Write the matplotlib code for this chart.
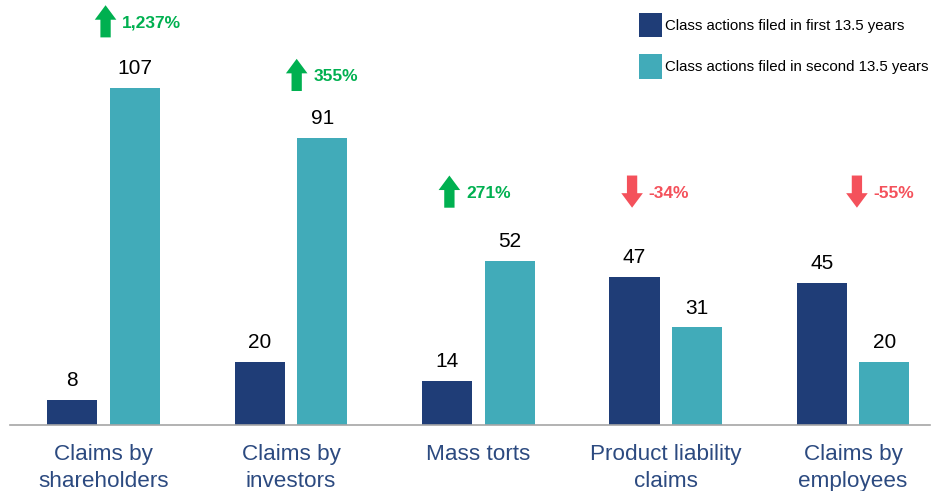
import matplotlib
matplotlib.use("Agg")
import matplotlib.pyplot as plt
from matplotlib.patches import FancyArrow
import numpy as np

plt.rcParams['font.family'] = ['Liberation Sans', 'DejaVu Sans']

# DATA
categories = ["Claims by\nshareholders", "Claims by\ninvestors", "Mass torts",
              "Product liability\nclaims", "Claims by\nemployees"]
first_period = [8, 20, 14, 47, 45]
second_period = [107, 91, 52, 31, 20]
changes = ["1,237%", "355%", "271%", "-34%", "-55%"]
change_y = [128, 111, 74, 74, 74]
series_names = ["Class actions filed in first 13.5 years",
                "Class actions filed in second 13.5 years"]

navy = "#1F3D77"
teal = "#41ABB9"
green = "#00B050"
red = "#F4515B"
label_col = "#2C4A80"

fig = plt.figure(figsize=(9.34, 4.91), dpi=100)
ax = fig.add_axes([10 / 934, 66 / 491, 920 / 934, 410 / 491])

x = np.arange(len(categories))
w = 0.267
off = 0.167
b1 = ax.bar(x - off, first_period, w, color=navy, label=series_names[0])
b2 = ax.bar(x + off, second_period, w, color=teal, label=series_names[1])

for bars, vals in ((b1, first_period), (b2, second_period)):
    for bar, v in zip(bars, vals):
        ax.annotate(str(v), (bar.get_x() + bar.get_width() / 2, v),
                    xytext=(0, 7), textcoords="offset points",
                    ha="center", va="bottom", fontsize=15, color="black")

# change arrows (horizontal shift from group centre)
arrow_shift = [0.01, 0.03, -0.155, -0.18, 0.02]
length = 10.2
for i, (txt, y) in enumerate(zip(changes, change_y)):
    up = not txt.startswith("-")
    col = green if up else red
    ax_x = i + arrow_shift[i]
    if up:
        arr = FancyArrow(ax_x, y - length / 2, 0, length, width=0.055,
                         head_width=0.115, head_length=4.6,
                         length_includes_head=True, color=col, lw=0)
    else:
        arr = FancyArrow(ax_x, y + length / 2, 0, -length, width=0.055,
                         head_width=0.115, head_length=4.6,
                         length_includes_head=True, color=col, lw=0)
    arr.set_clip_on(False)
    ax.add_patch(arr)
    ax.text(ax_x + 0.088, y - 0.5, txt, color=col, fontsize=12.5,
            fontweight="bold", ha="left", va="center", clip_on=False)

ax.set_xlim(-0.5, 4.41)
ax.set_ylim(0, 130)
ax.set_xticks(x)
ax.set_xticklabels(categories, fontsize=16.2, color=label_col, linespacing=1.32)
ax.tick_params(axis="x", length=0, pad=14)
ax.set_yticks([])
for s in ("top", "right", "left"):
    ax.spines[s].set_visible(False)
ax.spines["bottom"].set_color("#A6A6A6")
ax.spines["bottom"].set_linewidth(1.2)

ax.legend(loc="upper left", bbox_to_anchor=(639 / 934, 1 - 13 / 491),
          bbox_transform=fig.transFigure, frameon=False, fontsize=10.8,
          handlelength=1.55, handleheight=2.1, handletextpad=0.2,
          labelspacing=1.15, borderpad=0, borderaxespad=0)

fig.savefig("out.png", dpi=100)
